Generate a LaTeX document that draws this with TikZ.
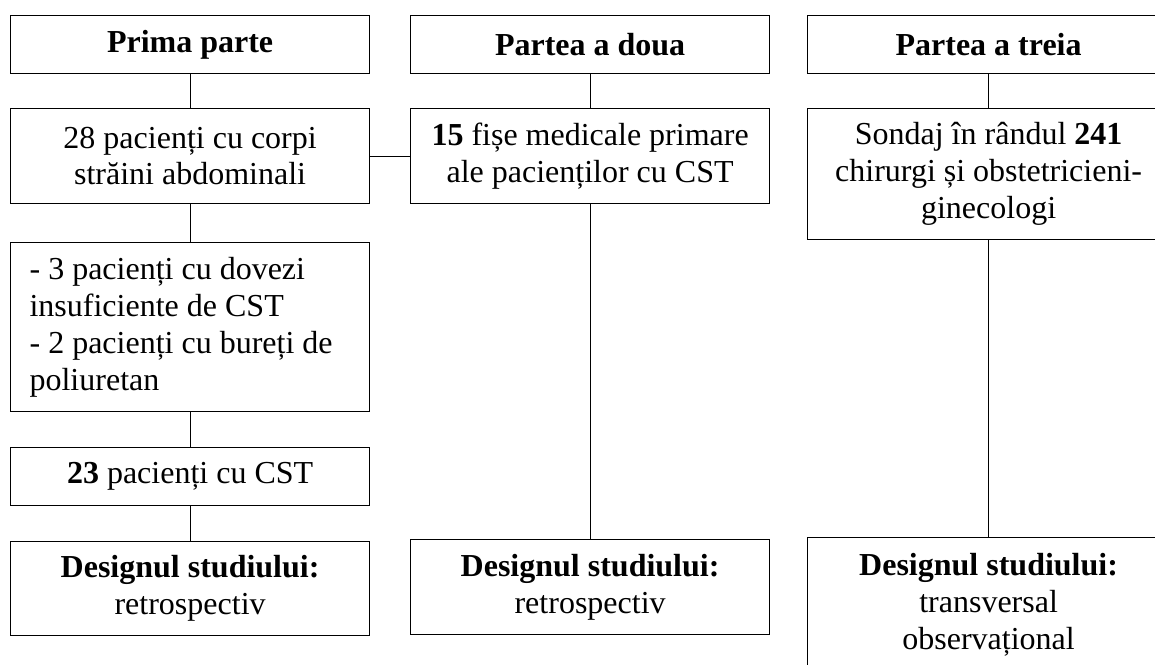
\documentclass[tikz,border=0pt]{standalone}
\usepackage{fontspec}
\setmainfont{Liberation Serif}
\begin{document}
\begin{tikzpicture}[x=0.5pt,y=-0.5pt,
  box/.style={draw, line width=0.6pt, inner sep=0pt, align=center, anchor=north west,
    font=\fontsize{16pt}{18.4pt}\selectfont},
  link/.style={line width=0.6pt}]
\useasboundingbox (0,0) rectangle (1155,664);
\clip (0,0) rectangle (1155,664);
% column 1
\node[box, minimum width=179.5pt, minimum height=29pt] (b11) at (10,15) {\textbf{Prima parte}};
\node[box, minimum width=179.5pt, minimum height=47.5pt] (b12) at (10,108) {28 pacienți cu corpi\\străini abdominali};
\node[box, minimum width=179.5pt, minimum height=84.5pt] (b13) at (10,242) {\parbox{160.5pt}{\raggedright\fontsize{16pt}{18.4pt}\selectfont - 3 pacienți cu dovezi\\insuficiente de CST\\- 2 pacienți cu bureți de\\poliuretan}};
\node[box, minimum width=179.5pt, minimum height=29pt] (b14) at (10,447) {\textbf{23} pacienți cu CST};
\node[box, minimum width=179.5pt, minimum height=47pt] (b15) at (10,541) {\textbf{Designul studiului:}\\retrospectiv};
% column 2
\node[box, minimum width=179.5pt, minimum height=29pt] (b21) at (410,15) {\textbf{Partea a doua}};
\node[box, minimum width=179.5pt, minimum height=47.5pt] (b22) at (410,108) {\textbf{15} fișe medicale primare\\ale pacienților cu CST};
\node[box, minimum width=179.5pt, minimum height=47.5pt] (b23) at (410,539) {\textbf{Designul studiului:}\\retrospectiv};
% column 3
\node[box, minimum width=181pt, minimum height=29pt] (b31) at (807,15) {\textbf{Partea a treia}};
\node[box, minimum width=181pt, minimum height=65.5pt] (b32) at (807,108) {Sondaj în rândul \textbf{241}\\chirurgi și obstetricieni-\\ginecologi};
\node[box, minimum width=181pt, minimum height=67pt] (b33) at (807,537) {\textbf{Designul studiului:}\\transversal\\observațional};
% connectors
\draw[link] (b11) -- (b12);
\draw[link] (b12) -- (b13);
\draw[link] (b13) -- (b14);
\draw[link] (b14) -- (b15);
\draw[link] (b21) -- (b22);
\draw[link] (b22) -- (b23);
\draw[link] (b31) -- (b32);
\draw[link] (b32) -- (b33);
\draw[link] (b12.east) -- (b12.east -| b22.west);
\end{tikzpicture}
\end{document}
